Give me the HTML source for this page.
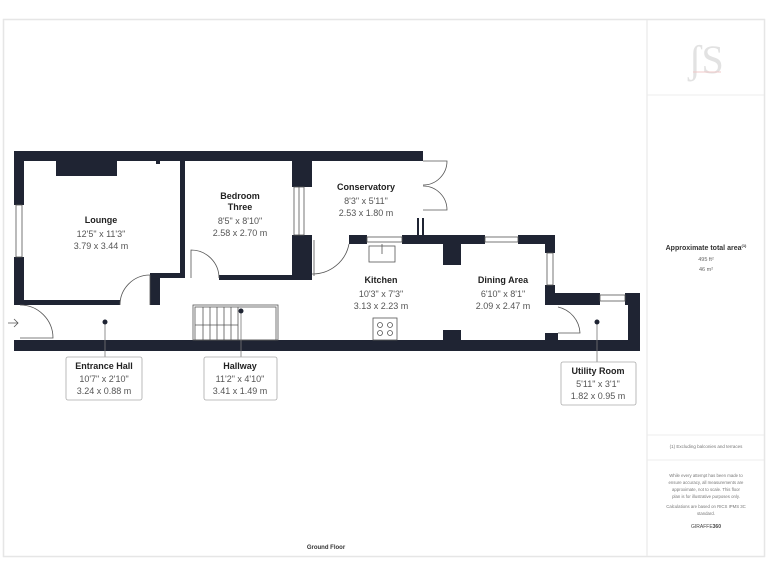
<!DOCTYPE html>
<html><head><meta charset="utf-8"><style>
html,body{margin:0;padding:0;background:#fff;width:768px;height:576px;overflow:hidden}
svg{display:block;font-family:"Liberation Sans",sans-serif}
</style></head><body>
<svg width="768" height="576" viewBox="0 0 768 576" xmlns="http://www.w3.org/2000/svg">
<rect x="0" y="0" width="768" height="576" fill="#fff"/>
<rect x="3.5" y="19.5" width="761" height="537" fill="#fff" stroke="#e6e6e6" stroke-width="1.5"/>
<line x1="647" y1="20" x2="647" y2="557" stroke="#e6e6e6"/>
<line x1="647" y1="95" x2="764" y2="95" stroke="#ececec"/>
<line x1="647" y1="435" x2="764" y2="435" stroke="#ececec"/>
<line x1="647" y1="460" x2="764" y2="460" stroke="#ececec"/>
<text x="706" y="73" font-size="40" fill="#e2e2e2" text-anchor="middle" font-family="Liberation Serif,serif">ʃS</text>
<line x1="693" y1="72" x2="721" y2="72" stroke="#f0c8c8" stroke-width="1"/>
<g fill="#333" text-anchor="middle">
<text x="706" y="250" font-size="7" font-weight="bold">Approximate total area<tspan font-size="4" dy="-3">(1)</tspan></text>
<text x="706" y="261" font-size="5.5" fill="#666">495 ft²</text>
<text x="706" y="271" font-size="5.5" fill="#666">46 m²</text>
<text x="706" y="448" font-size="4.5" fill="#777">(1) Excluding balconies and terraces</text>
<text x="706" y="477" font-size="4.3" fill="#777">While every attempt has been made to</text>
<text x="706" y="484" font-size="4.3" fill="#777">ensure accuracy, all measurements are</text>
<text x="706" y="491" font-size="4.3" fill="#777">approximate, not to scale. This floor</text>
<text x="706" y="498" font-size="4.3" fill="#777">plan is for illustrative purposes only.</text>
<text x="706" y="508" font-size="4.3" fill="#777">Calculations are based on RICS IPMS 3C</text>
<text x="706" y="515" font-size="4.3" fill="#777">standard.</text>
<text x="706" y="528" font-size="5" fill="#444">GIRAFFE<tspan font-weight="bold">360</tspan></text>
<text x="326" y="549" font-size="6" font-weight="bold">Ground Floor</text>
</g>

<g fill="#1f2433">
<rect x="14" y="151" width="409" height="10"/>
<rect x="14" y="151" width="10" height="54"/>
<rect x="14" y="257" width="10" height="48"/>
<rect x="14" y="300" width="106" height="5"/>
<rect x="56" y="161" width="61" height="15"/>
<rect x="156" y="161" width="4" height="3"/>
<rect x="150" y="273" width="10" height="32"/>
<rect x="150" y="273" width="35" height="5"/>
<rect x="180" y="161" width="5" height="117"/>
<rect x="219" y="275" width="80" height="5"/>
<rect x="292" y="161" width="20" height="26"/>
<rect x="292" y="235" width="20" height="45"/>
<rect x="14" y="340" width="626" height="11"/>
<rect x="349" y="235" width="18" height="9"/>
<rect x="402" y="235" width="83" height="9"/>
<rect x="518" y="235" width="37" height="9"/>
<rect x="443" y="244" width="18" height="21"/>
<rect x="545" y="235" width="10" height="18"/>
<rect x="545" y="285" width="10" height="20"/>
<rect x="545" y="293" width="55" height="12"/>
<rect x="625" y="293" width="15" height="12"/>
<rect x="628" y="293" width="12" height="58"/>
<rect x="443" y="330" width="18" height="10"/>
<rect x="545" y="333" width="13" height="7"/>
<rect x="417" y="218" width="2" height="22"/>
<rect x="422" y="218" width="2" height="22"/>
</g>
<g fill="none" stroke="#555" stroke-width="0.8">
<rect x="16" y="205" width="6" height="52"/>
<rect x="294" y="187" width="10" height="48"/>
<line x1="299" y1="187" x2="299" y2="235"/>
<rect x="367" y="237" width="35" height="5"/>
<rect x="485" y="237" width="33" height="5"/>
<rect x="547" y="253" width="6" height="32"/>
<rect x="600" y="295" width="25" height="6"/>
<path d="M120 305 A30 30 0 0 1 150 275"/>
<line x1="150" y1="275" x2="150" y2="305"/>
<path d="M219 278 A28 28 0 0 0 191 250 L191 278"/>
<path d="M20 305 A33 33 0 0 1 53 338 L20 338"/>
<path d="M312 274 A37 37 0 0 0 349 244"/>
<line x1="314" y1="240" x2="314" y2="276"/>
<path d="M423 161 L447 161 A24 24 0 0 1 423 185"/>
<path d="M423 210 L447 210 A24 24 0 0 0 423 186"/>
<path d="M558 307 A28 28 0 0 1 580 333 L558 333"/>
<rect x="193" y="305" width="85" height="35"/>
<rect x="195" y="307" width="81" height="33"/>
<line x1="203" y1="307" x2="203" y2="340"/><line x1="210" y1="307" x2="210" y2="340"/>
<line x1="217" y1="307" x2="217" y2="340"/><line x1="224" y1="307" x2="224" y2="340"/>
<line x1="231" y1="307" x2="231" y2="340"/><line x1="238" y1="307" x2="238" y2="340"/>
<line x1="195" y1="325" x2="238" y2="325"/>
<rect x="369" y="246" width="26" height="16"/><line x1="382" y1="244" x2="382" y2="254"/>
<rect x="373" y="318" width="24" height="22"/>
<circle cx="380" cy="325" r="2.5"/><circle cx="390" cy="325" r="2.5"/>
<circle cx="380" cy="333" r="2.5"/><circle cx="390" cy="333" r="2.5"/>
<path d="M8 323 L18 323 M14 319 L18 323 L14 327"/>
</g>
<g stroke="#777" stroke-width="0.8">
<line x1="105" y1="322" x2="105" y2="357"/>
<line x1="241" y1="311" x2="241" y2="357"/>
<line x1="597" y1="322" x2="597" y2="362"/>
</g>
<g fill="#1f2433"><circle cx="105" cy="322" r="2.5"/><circle cx="241" cy="311" r="2.5"/><circle cx="597" cy="322" r="2.5"/></g>
<g fill="#fff" stroke="#aaa" stroke-width="0.8">
<rect x="66" y="357" width="76" height="43" rx="2"/>
<rect x="204" y="357" width="73" height="43" rx="2"/>
<rect x="561" y="362" width="75" height="43" rx="2"/>
</g>
<g text-anchor="middle" font-size="9" fill="#555">
<text x="101" y="223" font-weight="bold" fill="#222">Lounge</text>
<text x="101" y="237">12'5" x 11'3"</text><text x="101" y="249">3.79 x 3.44 m</text>
<text x="240" y="199" font-weight="bold" fill="#222">Bedroom</text>
<text x="240" y="210" font-weight="bold" fill="#222">Three</text>
<text x="240" y="224">8'5" x 8'10"</text><text x="240" y="236">2.58 x 2.70 m</text>
<text x="366" y="190" font-weight="bold" fill="#222">Conservatory</text>
<text x="366" y="204">8'3" x 5'11"</text><text x="366" y="216">2.53 x 1.80 m</text>
<text x="381" y="283" font-weight="bold" fill="#222">Kitchen</text>
<text x="381" y="297">10'3" x 7'3"</text><text x="381" y="309">3.13 x 2.23 m</text>
<text x="503" y="283" font-weight="bold" fill="#222">Dining Area</text>
<text x="503" y="297">6'10" x 8'1"</text><text x="503" y="309">2.09 x 2.47 m</text>
<text x="104" y="369" font-weight="bold" fill="#222">Entrance Hall</text>
<text x="104" y="382">10'7" x 2'10"</text><text x="104" y="394">3.24 x 0.88 m</text>
<text x="240" y="369" font-weight="bold" fill="#222">Hallway</text>
<text x="240" y="382">11'2" x 4'10"</text><text x="240" y="394">3.41 x 1.49 m</text>
<text x="598" y="374" font-weight="bold" fill="#222">Utility  Room</text>
<text x="598" y="387">5'11" x 3'1"</text><text x="598" y="399">1.82 x 0.95 m</text>
</g>
</svg>
</body></html>
